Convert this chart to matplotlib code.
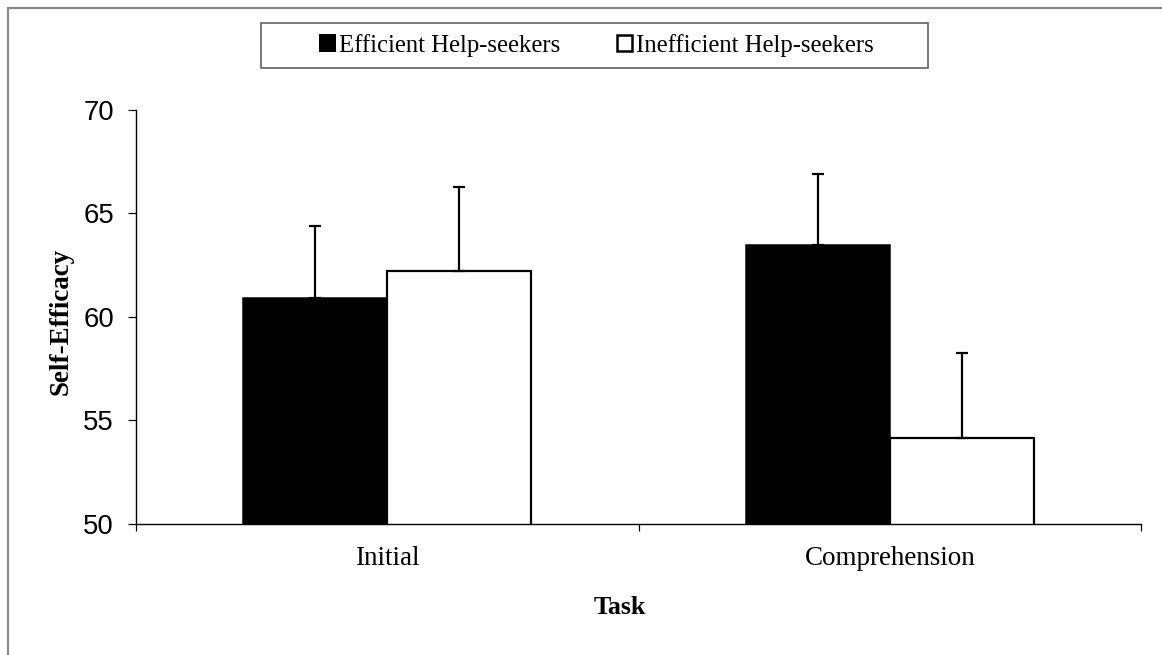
import matplotlib
matplotlib.use("Agg")
import matplotlib.pyplot as plt
from matplotlib.patches import Rectangle, Patch
import numpy as np

categories = ["Initial", "Comprehension"]
series_names = ["Efficient Help-seekers", "Inefficient Help-seekers"]
efficient = [60.9, 63.5]
efficient_err = [3.5, 3.4]
inefficient = [62.2, 54.15]
inefficient_err = [4.1, 4.1]
y_ticks = [50, 55, 60, 65, 70]

W, H = 1162, 655
DPI = 100
fig = plt.figure(figsize=(W / DPI, H / DPI), dpi=DPI)

def px(v):
    return v * 72 / DPI

# outer gray frame
fig.patches.append(Rectangle((8 / W, -0.01), 1.02, 1 - 8 / H + 0.01, transform=fig.transFigure,
                             fill=False, edgecolor="#8a8a8a", linewidth=px(2.2), zorder=0))

left, right = 136 / W, 1141 / W
bottom, top = (H - 524) / H, (H - 110) / H
ax = fig.add_axes([left, bottom, right - left, top - bottom])

x = np.arange(len(categories))
bw = 0.287
err_kw = dict(ecolor="black", elinewidth=px(2.2), capsize=px(6), capthick=px(2.2))
ax.bar(x - bw / 2, efficient, bw, color="black", edgecolor="black", linewidth=px(1.5),
       yerr=[np.zeros(len(x)), efficient_err], error_kw=err_kw, zorder=2)
ax.bar(x + bw / 2, inefficient, bw, color="white", edgecolor="black", linewidth=px(2.2),
       yerr=[np.zeros(len(x)), inefficient_err], error_kw=err_kw, zorder=2)

ax.set_ylim(50, 70)
ax.set_xlim(-0.5, 1.5)
ax.set_yticks(y_ticks)
ax.set_yticklabels([str(t) for t in y_ticks], fontfamily="Liberation Sans", fontsize=px(27.5))
ax.tick_params(axis="y", length=px(8), width=px(1.2), pad=px(14), direction="out")

# x ticks between categories
ax.set_xticks([-0.5, 0.5, 1.5])
ax.set_xticklabels([])
ax.set_xticks(x, minor=True)
ax.set_xticklabels(categories, minor=True, fontfamily="Liberation Serif", fontsize=px(27))
ax.tick_params(axis="x", which="major", length=px(7), width=px(1.2), direction="out")
ax.tick_params(axis="x", which="minor", length=0, pad=px(22))

for s in ["top", "right"]:
    ax.spines[s].set_visible(False)
for s in ["left", "bottom"]:
    ax.spines[s].set_linewidth(px(1.4))

fig.text(620 / W, 1 - 607 / H, "Task", ha="center", va="center",
         fontfamily="Liberation Serif", fontweight="bold", fontsize=px(26))
fig.text(61 / W, 1 - 321 / H, "Self-Efficacy", ha="center", va="center", rotation=90,
         fontfamily="Liberation Serif", fontweight="bold", fontsize=px(27))

# legend box
fig.patches.append(Rectangle((261 / W, 1 - 68 / H), (928 - 261) / W, (68 - 23) / H,
                             transform=fig.transFigure, fill=True, facecolor="white",
                             edgecolor="#6e6e6e", linewidth=px(1.8), zorder=1))
handles = [Patch(facecolor="black", edgecolor="black", linewidth=px(2)),
           Patch(facecolor="white", edgecolor="black", linewidth=px(2.5))]
leg = fig.legend(handles, series_names, loc="center", bbox_to_anchor=(597 / W, 1 - 45.5 / H),
                 ncol=2, frameon=False, prop={"family": "Liberation Serif", "size": px(24.7)},
                 handlelength=0.62, handleheight=0.62, handletextpad=0.15, columnspacing=2.3,
                 borderpad=0)
leg.set_zorder(3)

fig.savefig("out.png", dpi=DPI, facecolor="white")
